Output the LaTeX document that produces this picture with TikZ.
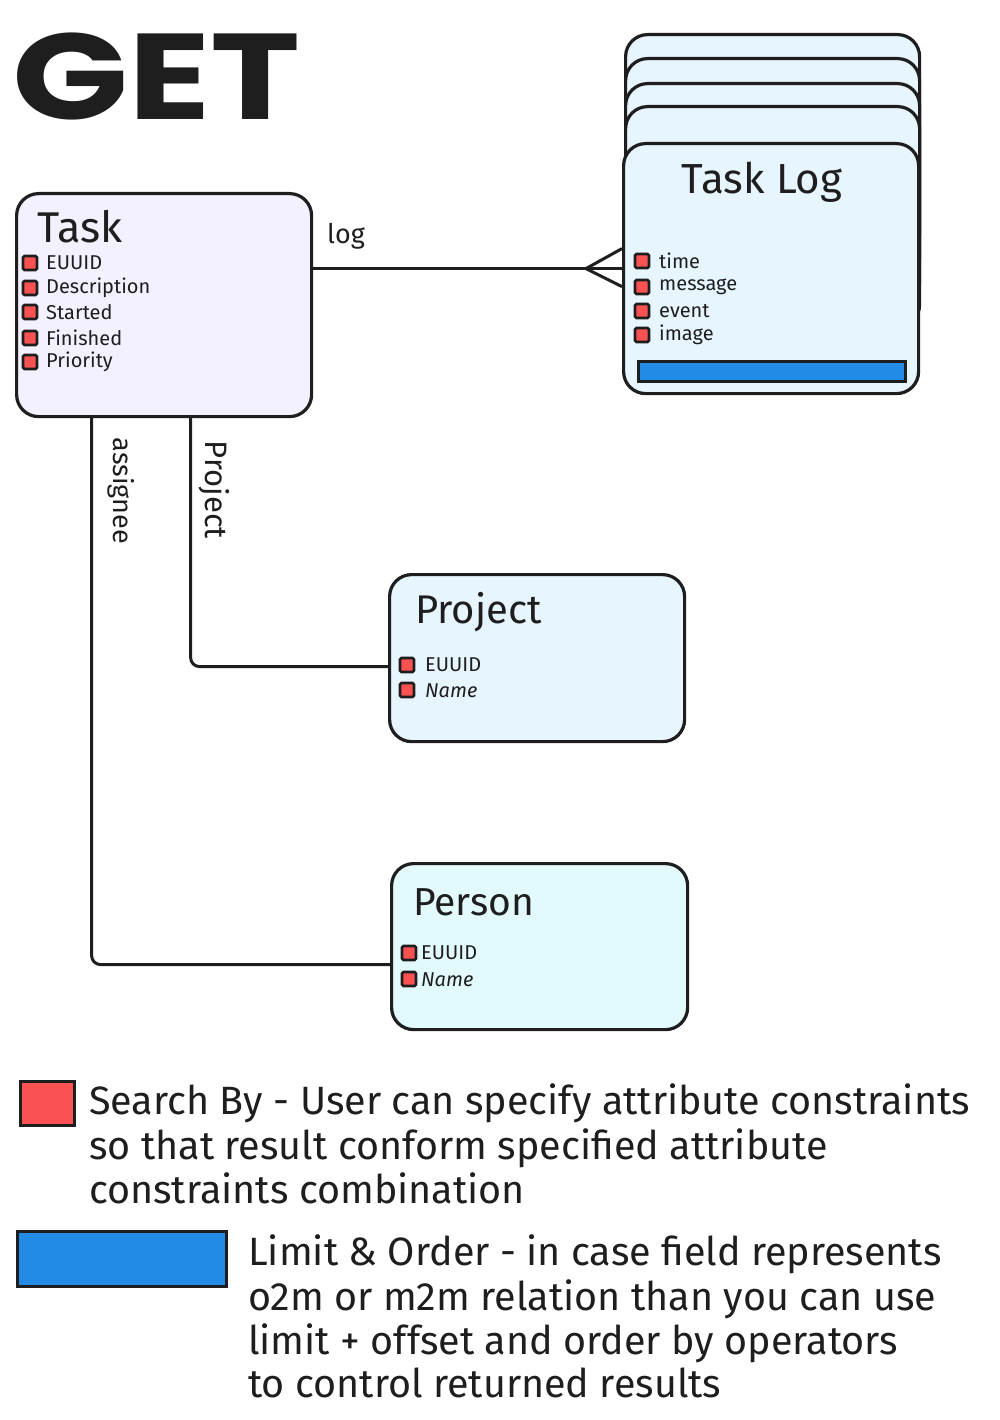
\documentclass[tikz,border=0pt]{standalone}
\usepackage{fontspec}
\setmainfont{Fira Sans}
\newfontfamily\getfont{Poppins}
\usetikzlibrary{calc}
\definecolor{ink}{HTML}{1E1E1E}
\definecolor{taskfill}{HTML}{F3F0FF}
\definecolor{logfill}{HTML}{E7F5FF}
\definecolor{personfill}{HTML}{E3FAFC}
\definecolor{searchred}{HTML}{FA5252}
\definecolor{limitblue}{HTML}{228BE6}
\tikzset{
  entity/.style={draw=ink, line width=3.2pt, rounded corners=22pt, anchor=north west, inner sep=0pt},
  sq/.style={draw=ink, fill=searchred, line width=2.6pt, rounded corners=1.5pt, minimum size=14pt, inner sep=0pt},
  attr/.style={anchor=west, inner sep=0pt, text=ink, font=\fontsize{20}{24}\selectfont},
  ttl/.style={inner sep=0pt, text=ink, font=\fontsize{42}{48}\selectfont},
  conn/.style={draw=ink, line width=3pt, rounded corners=9pt},
  rel/.style={inner sep=0pt, text=ink, font=\fontsize{27}{30}\selectfont},
  legend/.style={anchor=base west, inner sep=0pt, text=ink, font=\fontsize{39.5}{44}\selectfont},
}
\begin{document}
\begin{tikzpicture}[x=1pt,y=-1pt]
\useasboundingbox (0,0) rectangle (999,1420);
% title
\node[anchor=base west, inner sep=0pt, text=ink] (get) at (12,120) {\scalebox{1.25}[1]{\getfont\bfseries\fontsize{122}{130}\selectfont GET}};

% Task
\node[entity, fill=taskfill, minimum width=295pt, minimum height=223pt] (task) at (15,192) {};
\node[ttl, anchor=west, font=\fontsize{43}{48}\selectfont] (tasktitle) at (37,227) {Task};
\foreach \y/\t [count=\i] in {263/EUUID,288/Description,312/Started,338/Finished,362/Priority}{
  \node[sq] (ts\i) at (30,\y) {};
  \node[attr] (ta\i) at (46,\y) {\t};
}

% Task Log stack
\foreach \yy [count=\i] in {33,57,82,105}{
  \node[entity, fill=logfill, minimum width=294pt, minimum height=220pt] (back\i) at (624,\yy) {};
}
\node[entity, fill=logfill, minimum width=295pt, minimum height=250pt] (tasklog) at (622,142) {};
\node[ttl] (logtitle) at (762,182) {Task Log};
\foreach \y/\t [count=\i] in {261/time,287/message,311/event,335/image}{
  \node[sq] (ls\i) at (642,\y) {};
  \node[attr] (la\i) at (659,\y) {\t};
}
\node[draw=ink, fill=limitblue, line width=2.6pt, anchor=north west, minimum width=267pt, minimum height=20pt, inner sep=0pt] (logbar) at (637,360) {};

% Project
\node[entity, fill=logfill, minimum width=295pt, minimum height=167pt] (project) at (388,573) {};
\node[ttl, anchor=west, font=\fontsize{40}{46}\selectfont] (projtitle) at (415,612) {Project};
\node[sq] (ps1) at (407,665) {};
\node[attr] (pa1) at (425,665) {EUUID};
\node[sq] (ps2) at (407,690) {};
\node[attr, font=\itshape\fontsize{20}{24}\selectfont] (pa2) at (425,691) {Name};

% Person
\node[entity, fill=personfill, minimum width=296pt, minimum height=166pt] (person) at (390,862) {};
\node[ttl, anchor=west, font=\fontsize{39}{45}\selectfont] (perstitle) at (413,902) {Person};
\node[sq] (qs1) at (409,953) {};
\node[attr] (qa1) at (421,953) {EUUID};
\node[sq] (qs2) at (409,979) {};
\node[attr, font=\itshape\fontsize{20}{24}\selectfont] (qa2) at (421,980) {Name};

% connectors
\draw[conn] ([yshift=36.5pt]task.east) -- (tasklog.west);
\coordinate (cf) at ($(tasklog.west)+(-36,0)$);
\draw[conn] (cf) -- ($(tasklog.west)+(0,-20)$);
\draw[conn] (cf) -- ($(tasklog.west)+(0,18)$);
\node[rel] (loglbl) at (346,236) {log};

\draw[conn] ([xshift=26.5pt]task.south) |- ([yshift=-8.5pt]project.west);
\draw[conn] ([xshift=-72.5pt]task.south) |- ([yshift=-18pt]person.west);
\node[rel, rotate=-90] (asglbl) at (121,491) {assignee};
\node[rel, rotate=-90, font=\fontsize{31}{34}\selectfont] (prjlbl) at (214,490) {Project};

% legend
\node[draw=ink, fill=searchred, line width=3pt, anchor=north west, minimum width=54pt, minimum height=44pt, inner sep=0pt] (lgred) at (19,1080) {};
\node[legend] (lr1) at (89,1114) {Search By - User can specify attribute constraints};
\node[legend] (lr2) at (89,1159) {so that result conform specified attribute};
\node[legend] (lr3) at (89,1203) {constraints combination};

\node[draw=ink, fill=limitblue, line width=3pt, anchor=north west, minimum width=209pt, minimum height=55pt, inner sep=0pt] (lgblue) at (16,1230) {};
\node[legend] (lb1) at (248,1265) {Limit \& Order - in case field represents};
\node[legend] (lb2) at (248,1310) {o2m or m2m relation than you can use};
\node[legend] (lb3) at (248,1354) {limit + offset and order by operators};
\node[legend] (lb4) at (248,1397) {to control returned results};
\end{tikzpicture}
\end{document}
